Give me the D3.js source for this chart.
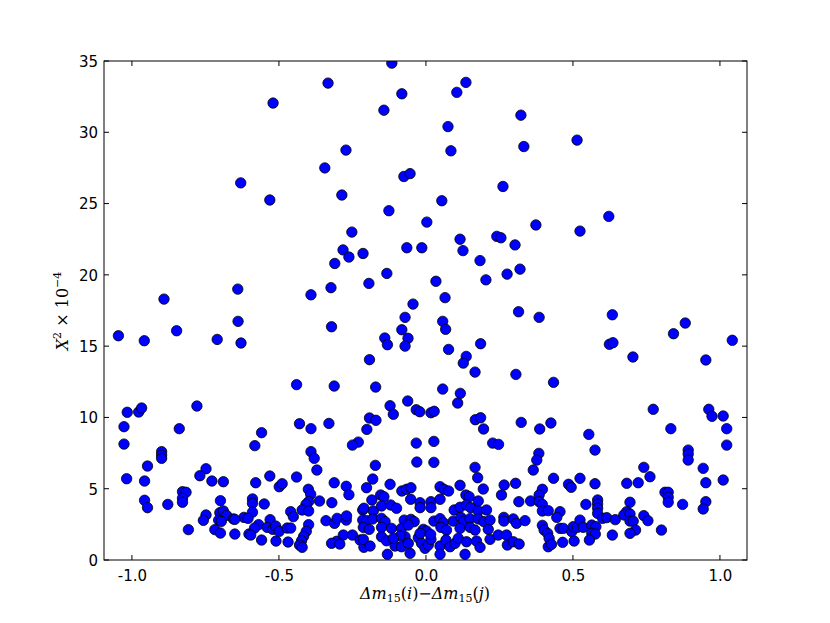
<!DOCTYPE html>
<html><head><meta charset="utf-8">
<script src="https://cdn.jsdelivr.net/npm/d3@7"></script>
<style>body{margin:0;background:#fff}svg{display:block}</style>
</head><body>
<script>
// Δm15(i)-Δm15(j) values (x) and X^2 x 10^-4 values (y)
const dm = [
-0.116,-0.333,0.136,0.105,-0.082,-0.52,-0.143,0.323,0.075,0.514,0.333,-0.272,0.085,-0.344,-0.075,-0.054,-0.63,0.262,-0.286,-0.531,0.054,-0.126,0.622,0.003,0.374,0.524,-0.252,0.241,0.255,0.116,0.303,-0.065,-0.014,-0.282,0.126,-0.214,-0.262,0.184,-0.31,-0.133,0.32,0.276,0.204,0.034,-0.194,-0.323,-0.64,-0.391,-0.891,0.065,-0.044,
-1.046,-0.848,-0.958,-0.639,-0.71,-0.629,-0.44,-0.779,-1.016,-0.977,-0.967,-1.027,-0.839,-0.43,-0.391,-0.559,-1.027,-0.582,
0.315,-0.321,-0.071,0.057,0.067,-0.082,-0.14,-0.131,-0.061,-0.071,0.077,0.186,0.137,0.127,-0.192,0.167,0.306,-0.312,-0.171,0.057,0.117,0.108,-0.062,-0.122,-0.111,-0.033,-0.021,0.017,0.028,-0.192,-0.17,-0.201,-0.33,0.168,0.186,0.196,0.324,-0.23,-0.25,-0.033,0.027,0.227,0.247,
0.385,0.634,0.624,0.636,0.882,0.842,1.042,0.704,0.952,0.434,0.773,0.962,0.973,1.011,0.387,0.425,0.554,0.833,1.023,1.023,
-0.899,-0.899,-0.899,-0.947,-1.018,-0.957,-0.748,-0.769,-0.728,-0.689,-0.957,-0.947,-0.878,-0.828,-0.816,-0.828,-0.828,-0.699,-0.748,-0.757,-0.701,-0.689,-0.678,-0.705,-0.696,-0.655,-0.808,-0.718,-0.699,-0.65,
-0.391,-0.38,-0.371,-0.579,-0.531,-0.499,-0.489,-0.44,-0.312,-0.271,-0.262,-0.4,-0.392,-0.362,-0.399,-0.408,-0.421,-0.399,-0.32,-0.55,-0.59,-0.59,-0.59,-0.619,-0.65,-0.605,-0.46,-0.451,-0.53,-0.569,-0.583,-0.54,-0.521,-0.511,-0.499,-0.472,-0.46,-0.399,-0.407,-0.416,-0.423,-0.43,-0.421,-0.602,-0.596,-0.559,-0.51,-0.469,-0.34,-0.311,-0.302,-0.271,-0.27,-0.215,-0.215,-0.281,-0.25,-0.304,-0.321,-0.293,-0.224,-0.211,
-0.031,0.027,-0.172,0.167,-0.181,0.176,-0.122,-0.202,0.116,0.195,-0.082,-0.066,-0.051,0.048,0.061,0.077,-0.154,-0.143,-0.184,-0.052,-0.02,0.017,0.048,0.136,0.147,0.178,-0.211,-0.179,-0.151,-0.12,-0.1,-0.02,0.017,0.096,0.116,0.138,0.152,0.178,0.206,-0.202,-0.181,-0.151,-0.139,-0.074,-0.051,-0.04,0.027,0.048,0.059,0.093,0.119,0.129,0.15,0.178,0.197,-0.213,-0.193,-0.151,-0.117,-0.083,-0.06,-0.009,0.002,0.051,0.07,0.116,0.15,0.167,0.212,-0.213,-0.19,-0.151,-0.134,-0.105,-0.083,-0.071,-0.06,-0.026,-0.015,-0.003,0.008,0.017,0.048,0.068,0.082,0.099,0.11,0.138,0.172,0.184,0.218,-0.131,-0.054,0.048,0.133,-0.02,0.016,-0.088,-0.111,
0.384,0.377,0.365,0.575,0.266,0.305,0.257,0.434,0.485,0.494,0.524,0.575,0.316,0.356,0.396,0.385,0.385,0.396,0.396,0.416,0.456,0.445,0.544,0.584,0.584,0.584,0.584,0.601,0.615,0.644,0.265,0.265,0.297,0.308,0.337,0.218,0.396,0.402,0.414,0.419,0.416,0.427,0.456,0.467,0.496,0.501,0.515,0.524,0.535,0.564,0.578,0.564,0.576,0.556,0.634,0.465,0.504,0.246,0.274,0.277,0.297,0.317,
0.892,0.892,0.892,0.741,0.762,0.683,0.722,0.943,0.952,1.011,0.813,0.824,0.824,0.824,0.873,0.952,0.943,0.694,0.683,0.673,0.694,0.694,0.705,0.741,0.755,0.713,0.694,0.801
];
const chi = [
34.85,33.45,33.5,32.8,32.7,32.05,31.55,31.2,30.4,29.45,29.0,28.75,28.7,27.5,26.9,27.1,26.45,26.2,25.6,25.25,25.2,24.5,24.1,23.7,23.5,23.07,23.0,22.7,22.6,22.5,22.1,21.9,21.9,21.75,21.7,21.5,21.25,21.0,20.8,20.1,20.4,20.05,19.65,19.55,19.4,19.1,19.0,18.6,18.3,18.4,17.95,
15.73,16.08,15.38,16.74,15.47,15.22,12.3,10.8,10.36,10.38,10.66,9.35,9.21,9.56,9.21,8.93,8.13,8.02,
17.41,16.36,17.02,16.74,16.18,16.15,15.57,15.1,15.55,15.0,14.77,15.17,14.28,13.81,14.05,13.18,13.02,12.2,12.13,11.99,11.69,11.01,11.15,10.82,10.22,10.54,10.4,10.33,10.43,9.96,9.8,9.16,9.58,9.84,9.98,9.19,9.65,8.27,8.06,8.2,8.32,8.2,8.11,
17.02,17.2,15.13,15.24,16.62,15.87,15.41,14.24,14.03,12.46,10.57,10.57,10.08,10.1,9.19,9.61,8.81,9.21,9.21,8.06,
7.6,7.36,7.13,6.59,5.7,5.54,6.4,5.91,5.54,5.49,4.19,3.67,3.9,4.79,4.75,4.33,4.05,4.16,3.16,2.78,3.32,3.44,3.13,2.8,2.71,2.88,2.13,2.13,1.89,1.82,
7.6,7.13,6.31,5.42,5.89,5.14,5.35,5.82,5.42,5.17,4.58,4.96,4.61,4.14,4.09,3.9,3.51,3.44,4.02,3.93,4.28,3.98,3.35,2.99,2.85,2.92,3.39,3.04,2.83,2.48,2.24,2.29,2.15,2.38,2.01,2.24,2.24,2.48,2.01,1.66,1.35,1.05,0.89,1.82,1.75,1.4,1.33,1.26,2.76,2.57,2.92,2.8,3.09,3.51,2.8,1.75,1.75,1.31,1.17,1.12,1.4,0.89,
6.87,6.85,6.64,6.5,5.68,5.77,5.31,5.07,5.24,4.98,4.84,4.96,5.07,5.14,4.96,4.84,4.56,4.44,4.21,4.26,4.02,4.09,4.26,4.56,4.44,4.14,3.63,3.44,3.79,3.86,3.63,3.67,3.67,3.51,3.7,3.86,3.67,3.44,3.51,2.76,2.88,2.92,2.69,2.8,2.85,2.69,2.73,2.9,2.62,2.73,2.99,2.73,2.9,2.88,2.69,2.29,2.15,2.29,2.22,2.22,2.45,2.15,2.03,2.29,2.1,2.22,2.29,2.1,2.15,1.45,0.98,1.63,1.35,0.98,0.93,1.63,1.17,1.56,1.17,0.82,1.05,1.45,0.98,1.4,0.93,1.17,1.52,1.28,1.33,0.89,1.45,0.4,0.47,0.4,0.4,1.87,1.8,1.68,1.52,
7.48,7.01,6.31,7.71,5.26,5.38,4.56,5.73,5.31,5.1,5.73,5.35,4.09,4.14,4.96,4.56,4.09,3.9,3.44,3.46,3.39,2.99,3.9,4.21,3.93,3.63,3.27,2.92,2.97,2.83,2.99,2.73,2.88,2.57,2.76,2.8,2.43,2.1,1.87,1.52,0.93,1.1,2.22,2.22,1.99,2.34,2.29,2.8,2.29,2.45,2.34,1.87,1.82,1.4,1.75,1.24,1.33,1.75,1.75,1.05,1.28,1.12,
7.71,7.43,7.01,6.5,5.84,5.38,5.42,6.43,5.42,5.61,4.75,4.75,4.4,4.05,3.9,4.09,3.58,4.05,3.39,3.16,3.23,2.73,2.73,3.11,2.76,2.1,1.87,2.1
];
const xTicks = [-1.0,-0.5,0.0,0.5,1.0];
const yTicks = [0,5,10,15,20,25,30,35];

const W = 830, H = 623;
const L = 104, R = 747, T = 61, B = 560;
const svg = d3.select("body").append("svg").attr("width", W).attr("height", H);
const x = d3.scaleLinear().domain([-1.095, 1.092]).range([L, R]);
const y = d3.scaleLinear().domain([0, 35]).range([B, T]);

const pts = dm.map((d, i) => ({x: d, y: chi[i]}));
const g = svg.append("g");
g.append("clipPath").attr("id","clip").append("rect").attr("x",L).attr("y",T).attr("width",R-L).attr("height",B-T);
g.append("g").attr("clip-path","url(#clip)").selectAll("circle").data(pts).join("circle")
  .attr("cx", d => x(d.x)).attr("cy", d => y(d.y)).attr("r", 5.2)
  .attr("fill", "#0000ff").attr("stroke", "#000").attr("stroke-width", 0.8);

// frame
svg.append("rect").attr("x", L).attr("y", T).attr("width", R - L).attr("height", B - T)
  .attr("fill", "none").attr("stroke", "#000").attr("stroke-width", 1);

const font = "DejaVu Sans";
const tl = 5;
// x ticks
const xa = d3.axisBottom(x).tickValues(xTicks).tickSize(0).tickFormat(d3.format(".1f"));
xTicks.forEach(v => {
  svg.append("line").attr("x1", x(v)).attr("x2", x(v)).attr("y1", B).attr("y2", B - tl).attr("stroke", "#000");
  svg.append("line").attr("x1", x(v)).attr("x2", x(v)).attr("y1", T).attr("y2", T + tl).attr("stroke", "#000");
});
const xg = svg.append("g").attr("transform", `translate(0,${B})`).call(xa);
xg.select(".domain").remove();
xg.selectAll("text").attr("font-family", font).attr("font-size", 15).attr("fill", "#000")
  .attr("dy", null).attr("y", 21).text(d => d3.format(".1f")(d).replace("−", "-"));

yTicks.forEach(v => {
  svg.append("line").attr("x1", L).attr("x2", L + tl).attr("y1", y(v)).attr("y2", y(v)).attr("stroke", "#000");
  svg.append("line").attr("x1", R).attr("x2", R - tl).attr("y1", y(v)).attr("y2", y(v)).attr("stroke", "#000");
});
const ya = d3.axisLeft(y).tickValues(yTicks).tickSize(0).tickFormat(d3.format("d"));
const yg = svg.append("g").attr("transform", `translate(${L},0)`).call(ya);
yg.select(".domain").remove();
yg.selectAll("text").attr("font-family", font).attr("font-size", 15).attr("fill", "#000")
  .attr("x", -6).attr("dy", "0.36em");

// x label
const xl = svg.append("text").attr("x", 425).attr("y", 599).attr("text-anchor", "middle")
  .attr("font-family", "DejaVu Serif").attr("font-size", 16).attr("fill", "#000");
xl.append("tspan").attr("font-style", "italic").text("Δm");
xl.append("tspan").attr("font-size", 11).attr("dy", 3).text("15");
xl.append("tspan").attr("dy", -3).text("(");
xl.append("tspan").attr("font-style", "italic").text("i");
xl.append("tspan").text(")−");
xl.append("tspan").attr("font-style", "italic").text("Δm");
xl.append("tspan").attr("font-size", 11).attr("dy", 3).text("15");
xl.append("tspan").attr("dy", -3).text("(");
xl.append("tspan").attr("font-style", "italic").text("j");
xl.append("tspan").text(")");

// y label
const yl = svg.append("text").attr("transform", "translate(68,311) rotate(-90)").attr("text-anchor", "middle")
  .attr("font-family", "DejaVu Serif").attr("font-size", 16).attr("fill", "#000");
yl.append("tspan").attr("font-style", "italic").text("X");
yl.append("tspan").attr("font-size", 11).attr("dy", -7).text("2");
yl.append("tspan").attr("dy", 7).text(" × 10");
yl.append("tspan").attr("font-size", 11).attr("dy", -7).text("−4");
</script>
</body></html>
